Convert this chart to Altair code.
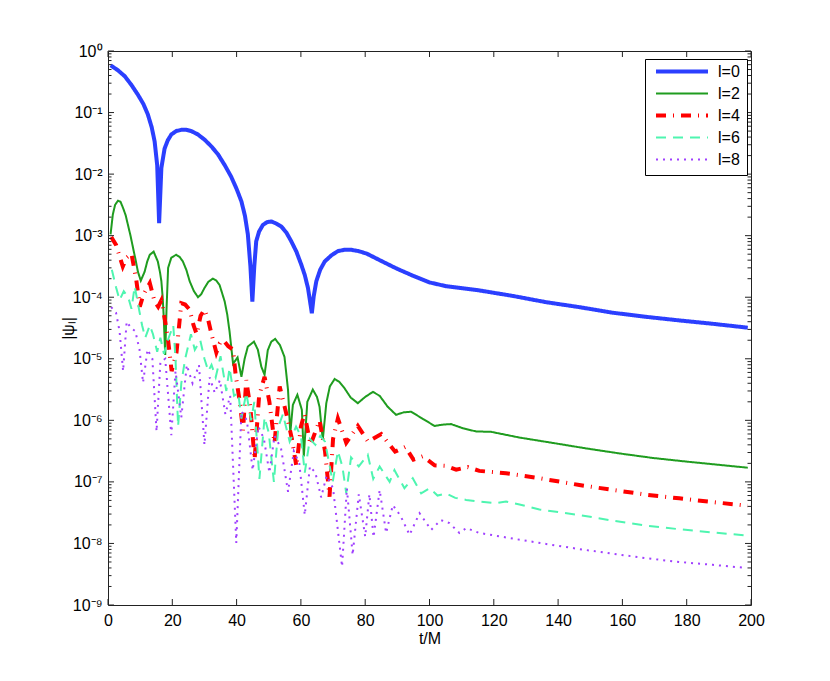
import altair as alt
import pandas as pd

series_names = ["l=0", "l=2", "l=4", "l=6", "l=8"]
series_colors = ["#2b3fff", "#1f9c1f", "#ff0000", "#4ef5b0", "#a040ff"]
series_widths = [4, 2, 4, 2, 2]
series_dashes = [[1, 0], [1, 0], [10, 7, 1, 7], [10, 7], [2, 5]]

# (t/M, |psi_l|)
l0 = [(0.8, 5.85e-1), (3.0, 4.9e-1), (5.2, 3.9e-1), (7.3, 2.8e-1), (9.3, 1.95e-1),
      (11.0, 1.38e-1), (12.4, 9.3e-2), (13.6, 5.75e-2), (14.5, 3.4e-2), (15.3, 1.4e-2),
      (15.9, 1.6e-3), (16.6, 1.26e-2), (17.6, 2.6e-2), (18.6, 3.55e-2), (19.7, 4.4e-2),
      (21.2, 5.0e-2), (22.8, 5.25e-2), (24.3, 5.25e-2), (25.9, 5.0e-2), (28.0, 4.4e-2),
      (30.1, 3.6e-2), (32.2, 2.8e-2), (34.2, 2.1e-2), (36.3, 1.4e-2), (38.3, 9.1e-3),
      (40.0, 5.75e-3), (41.5, 3.6e-3), (42.6, 2.1e-3), (43.5, 1.05e-3), (44.3, 3.16e-4),
      (44.9, 8.5e-5), (45.5, 3.16e-4), (46.1, 8.1e-4), (47.0, 1.17e-3), (48.2, 1.5e-3),
      (49.5, 1.66e-3), (50.8, 1.7e-3), (52.3, 1.58e-3), (53.9, 1.41e-3), (55.5, 1.12e-3),
      (57.0, 8.1e-4), (58.6, 5.5e-4), (60.1, 3.4e-4), (61.2, 2.3e-4), (62.2, 1.41e-4),
      (62.8, 8.9e-5), (63.4, 5.5e-5), (64.0, 1.05e-4), (64.8, 1.82e-4), (66.0, 2.8e-4),
      (67.4, 3.8e-4), (69.5, 4.8e-4), (71.5, 5.6e-4), (73.5, 5.9e-4), (75.6, 5.9e-4),
      (78.0, 5.6e-4), (80.5, 5.1e-4), (84.5, 4.0e-4), (89.6, 2.95e-4), (94.8, 2.24e-4),
      (100.0, 1.74e-4), (105.2, 1.51e-4), (115.5, 1.29e-4), (125.9, 1.05e-4), (136.3, 8.3e-5),
      (146.6, 6.9e-5), (157.0, 5.6e-5), (167.4, 4.8e-5), (177.7, 4.2e-5), (188.1, 3.7e-5),
      (199.0, 3.2e-5)]

l2 = [(0.8, 1.05e-3), (1.5, 2.2e-3), (2.2, 3.16e-3), (3.1, 3.7e-3), (3.9, 3.55e-3),
      (4.7, 2.8e-3), (5.5, 2.14e-3), (6.2, 1.5e-3), (7.0, 1.0e-3), (7.8, 6.3e-4),
      (8.6, 4.0e-4), (9.3, 2.6e-4), (10.2, 1.86e-4), (11.4, 2.6e-4), (12.2, 3.8e-4),
      (13.0, 4.9e-4), (14.2, 5.5e-4), (15.5, 3.8e-4), (16.2, 2.5e-4), (16.6, 1.82e-4),
      (17.0, 1.0e-4), (17.3, 5.2e-5), (17.8, 1.15e-5), (18.2, 6.3e-5), (18.7, 3.0e-4),
      (19.7, 4.4e-4), (21.2, 4.9e-4), (22.3, 4.5e-4), (23.3, 3.8e-4), (24.4, 2.75e-4),
      (25.4, 1.82e-4), (26.7, 1.26e-4), (28.0, 1.0e-4), (29.0, 1.12e-4), (30.0, 1.41e-4),
      (31.2, 1.78e-4), (32.6, 2.0e-4), (33.7, 1.86e-4), (34.7, 1.58e-4), (35.6, 1.12e-4),
      (36.3, 8.5e-5), (37.1, 5.2e-5), (37.8, 2.8e-5), (38.9, 8.3e-6), (40.3, 1.05e-5),
      (41.5, 5.1e-6), (42.5, 1.0e-5), (43.5, 1.58e-5), (45.4, 1.9e-5), (46.6, 1.41e-5),
      (47.7, 7.4e-6), (48.7, 5.5e-6), (49.7, 1.38e-5), (50.8, 1.9e-5), (52.0, 2.1e-5),
      (53.5, 1.66e-5), (54.9, 1.07e-5), (56.0, 3.1e-6), (56.7, 6.2e-7), (57.5, 1.78e-6),
      (58.9, 2.6e-6), (60.3, 1.48e-6), (60.9, 2.6e-7), (62.0, 2.0e-6), (63.7, 3.16e-6),
      (65.0, 2.4e-6), (65.8, 1.66e-6), (66.8, 4.8e-7), (67.9, 1.9e-6), (69.0, 3.55e-6),
      (70.5, 4.7e-6), (72.0, 4.2e-6), (73.6, 3.3e-6), (75.5, 2.34e-6), (77.7, 1.9e-6),
      (80.0, 2.4e-6), (82.4, 2.9e-6), (84.5, 2.5e-6), (87.0, 1.66e-6), (89.6, 1.23e-6),
      (92.0, 1.35e-6), (94.3, 1.38e-6), (98.0, 1.05e-6), (101.6, 8.1e-7), (104.0, 8.5e-7),
      (106.7, 8.7e-7), (110.5, 7.4e-7), (114.5, 6.6e-7), (119.2, 6.5e-7), (128.0, 5.25e-7),
      (138.3, 4.3e-7), (148.7, 3.5e-7), (159.1, 2.9e-7), (169.4, 2.45e-7), (179.8, 2.14e-7),
      (199.0, 1.7e-7)]

l4 = [(1.0, 9.5e-4), (2.5, 7.1e-4), (3.6, 4.6e-4), (4.6, 3.16e-4), (5.8, 4.4e-4),
      (7.3, 5.1e-4), (8.8, 1.9e-4), (9.9, 7.0e-5), (11.0, 1.1e-4), (13.0, 1.7e-4),
      (14.5, 8.5e-5), (15.6, 7.0e-5), (16.6, 8.9e-5), (17.8, 4.0e-5), (18.7, 2.0e-5),
      (19.8, 6.3e-6), (21.3, 1.26e-5), (22.8, 8.0e-5), (24.0, 7.6e-5), (25.4, 6.3e-5),
      (26.6, 3.5e-5), (27.6, 2.5e-5), (28.8, 5.0e-5), (30.0, 6.3e-5), (31.2, 4.2e-5),
      (32.2, 2.5e-5), (33.7, 1.26e-5), (34.8, 1.8e-5), (35.9, 2.0e-5), (37.4, 1.6e-5),
      (38.9, 1.41e-5), (39.7, 5.5e-6), (40.9, 2.14e-6), (42.0, 6.9e-7), (43.0, 4.5e-6),
      (44.3, 1.58e-6), (45.6, 2.3e-7), (47.0, 2.5e-6), (48.7, 5.1e-6), (50.2, 2.0e-6),
      (51.8, 4.3e-7), (53.4, 3.55e-6), (55.5, 1.26e-6), (57.2, 5.0e-7), (58.6, 1.78e-7),
      (60.0, 7.9e-7), (61.1, 1.29e-6), (63.0, 4.0e-7), (65.8, 1.0e-6), (67.5, 3.16e-7),
      (68.9, 5.75e-8), (70.0, 5.0e-7), (71.5, 1.07e-6), (74.1, 4.3e-7), (77.7, 8.1e-7),
      (80.9, 4.5e-7), (85.0, 6.0e-7), (89.3, 3.1e-7), (92.5, 3.7e-7), (95.0, 2.3e-7),
      (97.9, 2.6e-7), (101.6, 1.86e-7), (105.2, 1.82e-7), (108.3, 1.58e-7), (111.9, 1.74e-7),
      (115.5, 1.51e-7), (123.8, 1.38e-7), (133.2, 1.17e-7), (146.6, 8.9e-8), (157.0, 7.4e-8),
      (167.4, 6.2e-8), (177.7, 5.4e-8), (188.1, 4.7e-8), (199.0, 4.1e-8)]

l6 = [(1.2, 2.8e-4), (2.5, 1.45e-4), (3.6, 9.0e-5), (4.9, 1.25e-4), (6.3, 1.0e-4),
      (7.3, 6.5e-5), (8.3, 1.5e-4), (9.5, 7.0e-5), (10.6, 3.5e-5), (11.6, 2.2e-5),
      (13.0, 3.5e-5), (14.0, 2.5e-5), (15.3, 1.3e-5), (16.3, 2.2e-5), (17.4, 1.2e-5),
      (18.6, 2.0e-5), (20.3, 3.5e-5), (21.0, 1.0e-5), (21.8, 8.0e-7), (22.8, 4.0e-6),
      (24.0, 1.0e-5), (25.8, 2.5e-5), (27.0, 1.4e-5), (28.7, 2.0e-5), (30.0, 1.0e-5),
      (31.2, 6.3e-6), (32.2, 8.0e-6), (33.5, 5.0e-6), (35.0, 1.1e-5), (36.8, 3.0e-6),
      (37.8, 7.1e-6), (39.2, 2.5e-6), (40.5, 2.8e-6), (41.5, 1.07e-6), (43.0, 2.8e-6),
      (44.5, 1.0e-6), (45.5, 2.0e-6), (47.1, 1.12e-7), (48.7, 1.12e-6), (50.0, 6.3e-7),
      (51.6, 1.0e-7), (53.0, 7.9e-7), (54.4, 1.26e-6), (56.5, 4.5e-7), (58.5, 7.9e-7),
      (60.0, 5.6e-7), (61.2, 1.41e-7), (62.8, 5.0e-7), (64.5, 4.0e-7), (66.0, 5.6e-7),
      (67.5, 4.5e-7), (69.9, 1.0e-7), (71.5, 3.16e-7), (72.9, 1.78e-7), (74.1, 6.6e-8),
      (75.6, 2.5e-7), (78.0, 1.78e-7), (80.8, 2.75e-7), (82.5, 1.12e-7), (84.5, 1.78e-7),
      (87.6, 1.0e-7), (89.1, 1.55e-7), (92.2, 7.9e-8), (94.8, 1.15e-7), (97.4, 6.5e-8),
      (100.0, 7.9e-8), (102.5, 6.0e-8), (105.2, 6.5e-8), (108.0, 5.5e-8), (111.4, 5.1e-8),
      (115.5, 4.8e-8), (120.7, 4.5e-8), (123.8, 4.8e-8), (128.0, 4.3e-8), (134.2, 3.55e-8),
      (146.6, 2.9e-8), (157.0, 2.34e-8), (167.4, 1.95e-8), (177.7, 1.7e-8), (188.1, 1.51e-8),
      (198.4, 1.35e-8)]

l8 = [(1.0, 6.9e-5), (2.5, 5.6e-5), (3.6, 2.8e-5), (4.7, 6.3e-6), (5.8, 4.0e-5),
      (7.2, 3.16e-5), (8.5, 2.8e-5), (9.8, 1.41e-5), (10.9, 4.1e-6), (12.3, 1.41e-5),
      (13.8, 1.0e-5), (15.1, 6.6e-7), (16.3, 8.9e-6), (17.8, 1.0e-5), (19.7, 5.75e-7),
      (21.0, 6.3e-6), (22.8, 1.12e-6), (24.5, 7.9e-6), (26.3, 4.0e-6), (28.3, 7.9e-6),
      (30.0, 4.0e-7), (31.6, 5.0e-6), (33.2, 2.8e-6), (34.8, 4.5e-6), (36.5, 1.26e-6),
      (38.0, 2.5e-6), (39.9, 1.02e-8), (41.5, 1.41e-6), (43.2, 1.0e-6), (45.0, 1.55e-7),
      (46.8, 7.9e-7), (48.5, 5.0e-7), (50.2, 1.41e-7), (51.8, 5.6e-7), (53.8, 3.55e-7),
      (56.0, 6.9e-8), (57.8, 3.16e-7), (59.5, 2.0e-7), (61.2, 2.9e-8), (62.8, 1.78e-7),
      (64.5, 1.41e-7), (66.3, 5.6e-8), (68.0, 1.26e-7), (70.0, 7.9e-8), (72.8, 4.2e-9),
      (74.3, 7.9e-8), (76.1, 6.5e-9), (78.0, 6.3e-8), (80.0, 1.29e-8), (81.3, 6.3e-8),
      (82.6, 1.26e-8), (84.5, 7.4e-8), (86.5, 1.48e-8), (88.6, 4.2e-8), (91.0, 2.8e-8),
      (93.8, 1.38e-8), (96.9, 3.1e-8), (100.5, 1.66e-8), (103.5, 2.4e-8), (106.2, 2.14e-8),
      (109.3, 1.48e-8), (111.5, 1.78e-8), (115.5, 1.48e-8), (125.9, 1.2e-8), (136.3, 9.8e-9),
      (146.6, 8.1e-9), (157.0, 6.8e-9), (167.4, 5.75e-9), (177.7, 5.0e-9), (188.1, 4.5e-9),
      (198.4, 4.0e-9)]

x_ticks = [0, 20, 40, 60, 80, 100, 120, 140, 160, 180, 200]
y_ticks = [1e-9, 1e-8, 1e-7, 1e-6, 1e-5, 1e-4, 1e-3, 1e-2, 1e-1, 1e0]
y_tick_labels = ["10⁻⁹", "10⁻⁸", "10⁻⁷", "10⁻⁶", "10⁻⁵", "10⁻⁴", "10⁻³", "10⁻²", "10⁻¹", "10⁰"]
y_minor = [m * d for d in y_ticks[:-1] for m in (2, 3, 4, 5, 6, 7, 8, 9)]

rows = []
for name, pts in zip(series_names, [l0, l2, l4, l6, l8]):
    for t, v in pts:
        rows.append({"t": t, "v": v, "series": name})
df = pd.DataFrame(rows)

W, H = 643, 554
FONT = "Liberation Sans"
xscale = alt.Scale(domain=[0, 200], nice=False, zero=False)
yscale = alt.Scale(type="log", domain=[1e-9, 1], nice=False)

label_expr = "[" + ",".join("'%s'" % s for s in y_tick_labels) + "][round(log(datum.value)/LN10)+9]"

x_axis = alt.Axis(values=x_ticks, title="t/M", domain=False, ticks=False, grid=False,
                  labelPadding=7, titlePadding=2, labelFlush=False)
y_axis = alt.Axis(values=y_ticks, labelExpr=label_expr, title="|ψₗ|", domain=False,
                  ticks=False, grid=False, labelPadding=6, titlePadding=-4, labelFlush=False)

leg = alt.Legend(
    title=None, orient="none", legendX=537, legendY=8,
    symbolType="stroke", symbolSize=2704, clipHeight=11, rowPadding=5,
    symbolOffset=2, labelOffset=8, padding=7,
    labelFont=FONT, labelFontSize=16, labelColor="black",
    strokeColor="black", fillColor="white", cornerRadius=0,
)

lines = alt.Chart(df).mark_line(clip=True, strokeCap="butt").encode(
    x=alt.X("t:Q", scale=xscale, axis=x_axis),
    y=alt.Y("v:Q", scale=yscale, axis=y_axis),
    color=alt.Color("series:N", scale=alt.Scale(domain=series_names, range=series_colors), legend=leg),
    strokeDash=alt.StrokeDash("series:N", scale=alt.Scale(domain=series_names, range=series_dashes), legend=leg),
    strokeWidth=alt.StrokeWidth("series:N", scale=alt.Scale(type="ordinal", domain=series_names, range=series_widths), legend=leg),
)

tick_color = "#222222"
xt = pd.DataFrame({"t": x_ticks})
ymaj = pd.DataFrame({"v": y_ticks})
ymin = pd.DataFrame({"v": y_minor})

def xtick(y1, y2):
    return alt.Chart(xt).mark_rule(color=tick_color, strokeWidth=1).encode(
        x=alt.X("t:Q", scale=xscale, axis=x_axis), y=alt.value(y1), y2=alt.value(y2))

def ytick(df_, x1, x2):
    return alt.Chart(df_).mark_rule(color=tick_color, strokeWidth=1).encode(
        y=alt.Y("v:Q", scale=yscale, axis=y_axis), x=alt.value(x1), x2=alt.value(x2))

chart = alt.layer(
    lines,
    xtick(H, H - 6), xtick(0, 6),
    ytick(ymaj, 0, 6), ytick(ymin, 0, 3.5),
    ytick(ymaj, W - 6, W), ytick(ymin, W - 3.5, W),
).properties(
    width=W, height=H,
    autosize=alt.AutoSizeParams(type="none"),
    padding={"left": 100, "top": 43, "right": 60, "bottom": 60},
    background="white",
).configure_view(
    stroke="#222222", strokeWidth=1
).configure_axis(
    labelFont=FONT, labelFontSize=16, labelColor="black",
    titleFont=FONT, titleFontSize=16, titleColor="black", titleFontWeight="normal",
)

chart.save("out.html", embed_options={"renderer": "svg", "actions": False})
